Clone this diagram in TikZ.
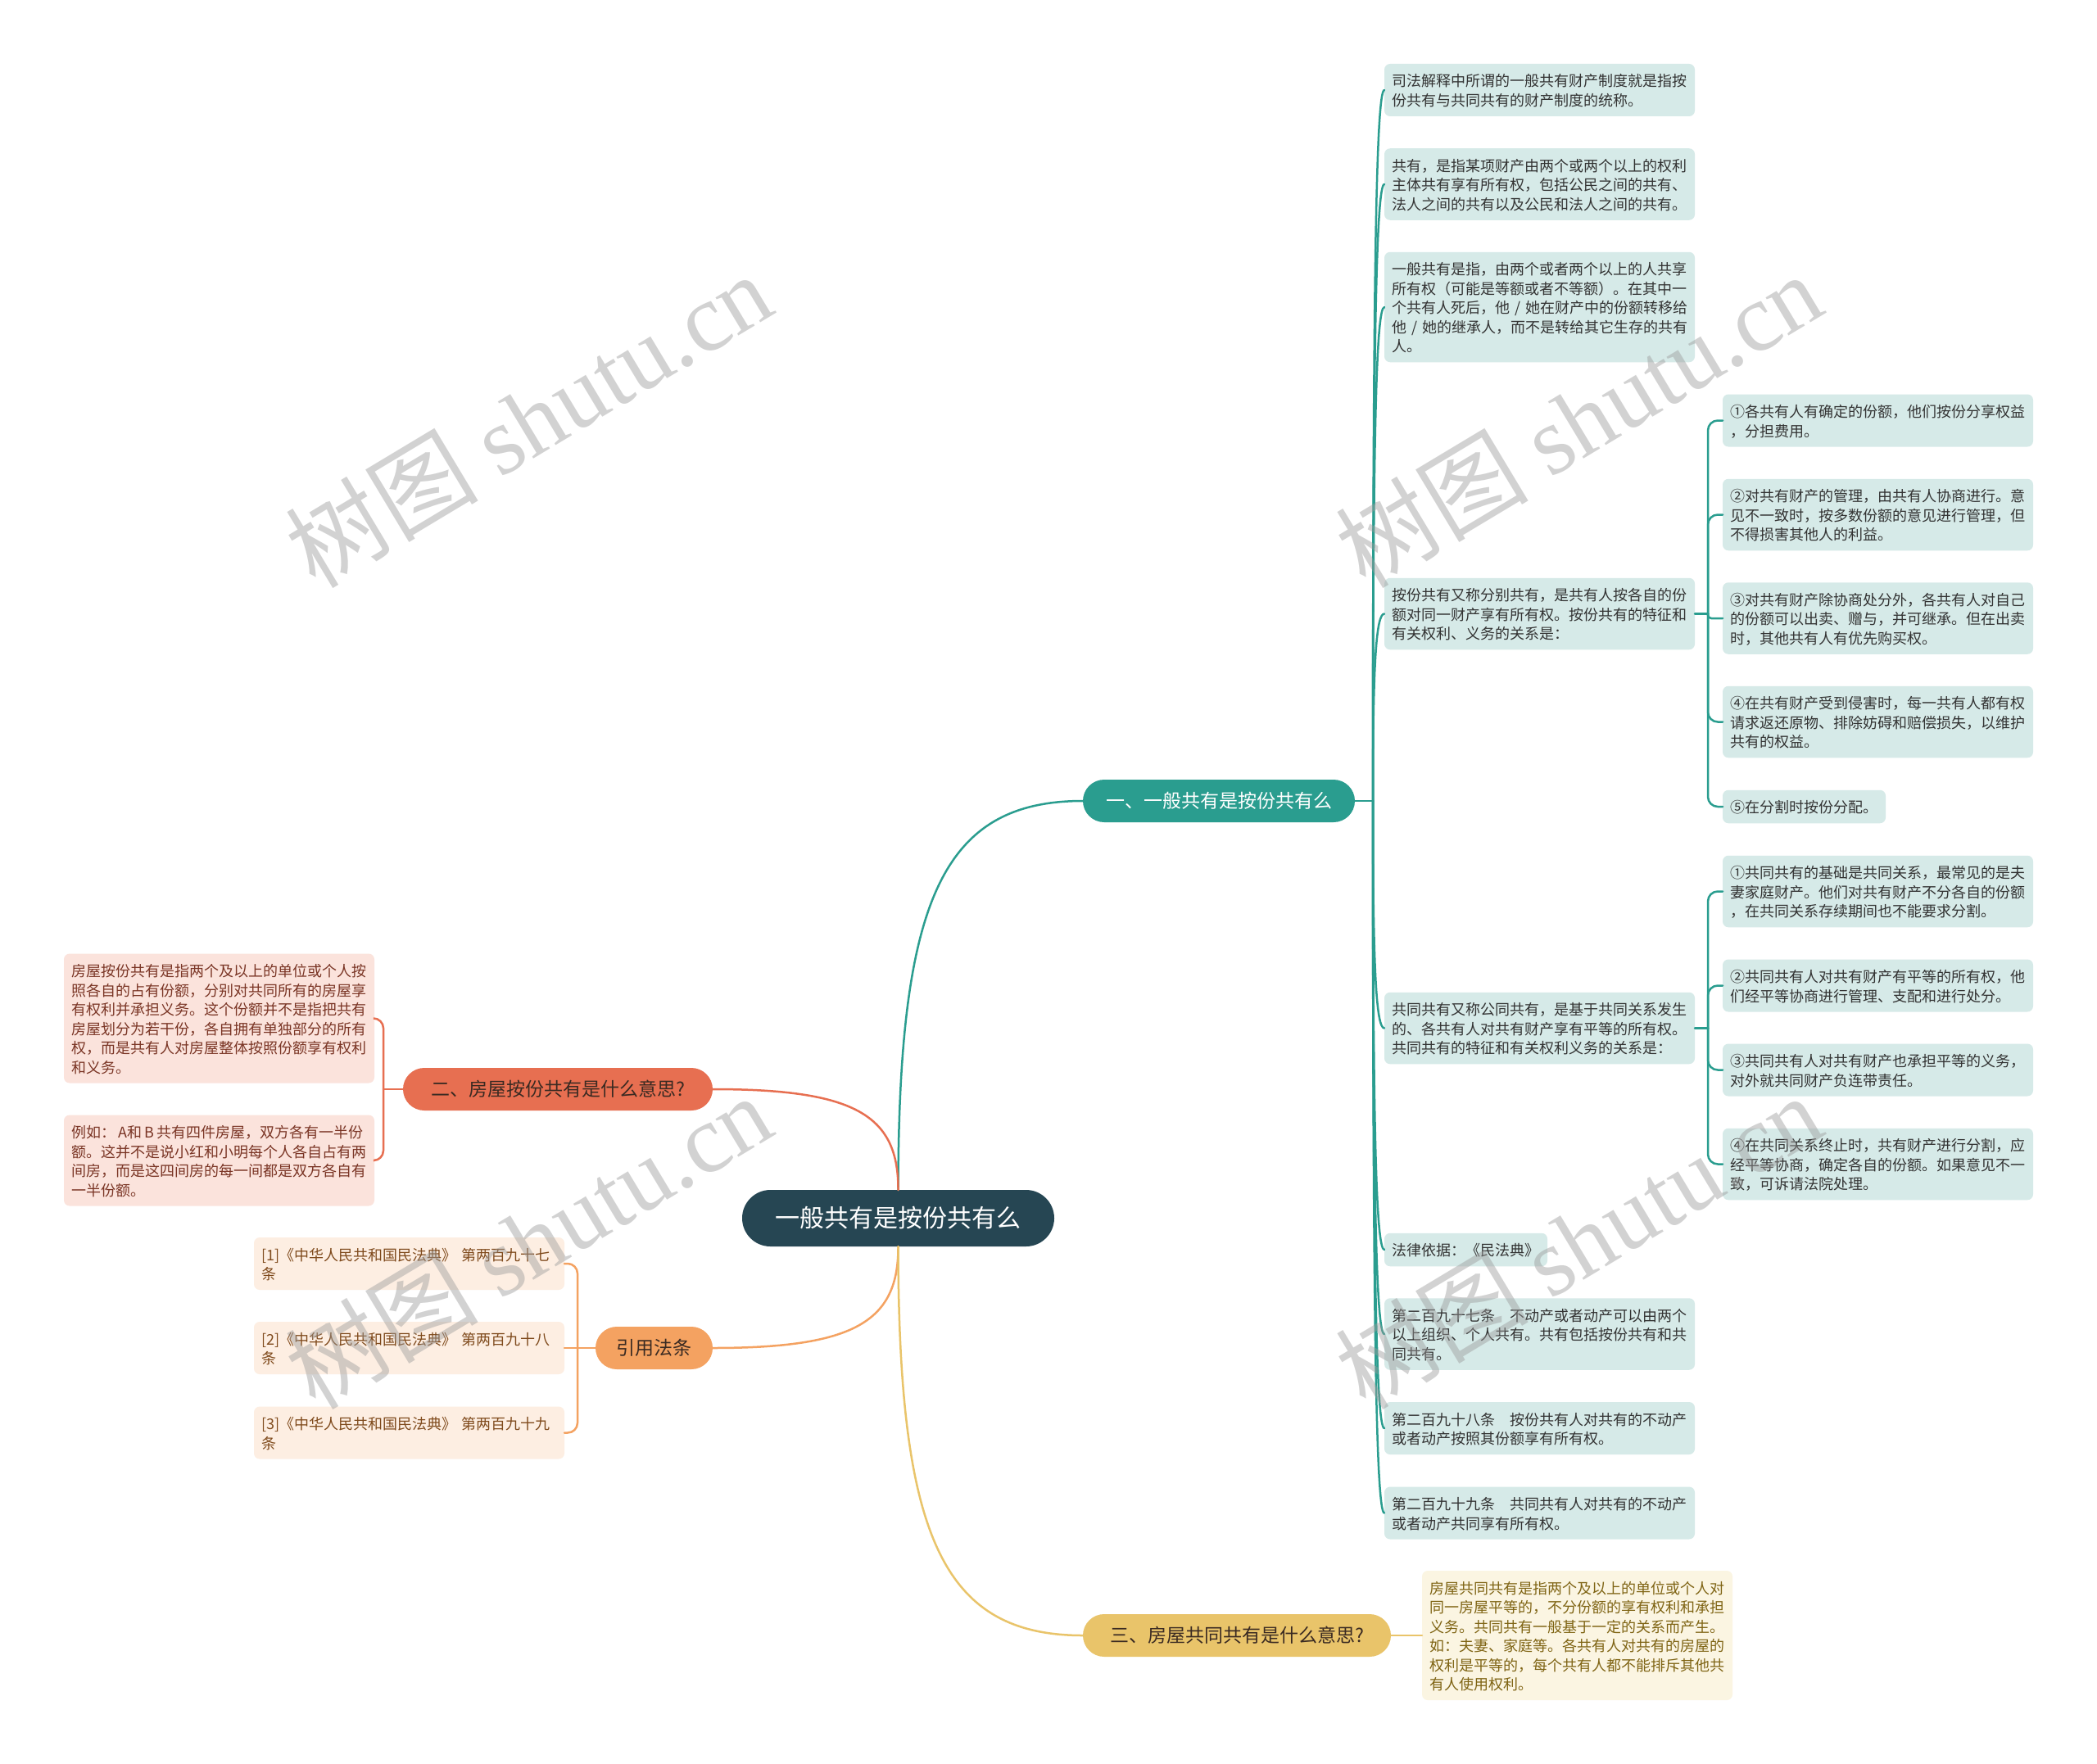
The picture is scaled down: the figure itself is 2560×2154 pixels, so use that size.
\documentclass[tikz,border=0pt]{standalone}
\usepackage{fontspec}
\setmainfont{Noto Sans CJK SC}
\newfontfamily\cjk{Noto Sans CJK SC}
\newfontfamily\wmserif{Liberation Serif}
\definecolor{cRoot}{HTML}{264653}
\definecolor{cT}{HTML}{2A9D8F}
\definecolor{cTl}{HTML}{D6EAE8}
\definecolor{cR}{HTML}{E76F51}
\definecolor{cRl}{HTML}{FBE3DC}
\definecolor{cRt}{HTML}{7A3525}
\definecolor{cO}{HTML}{F4A261}
\definecolor{cOl}{HTML}{FDEEE2}
\definecolor{cOt}{HTML}{7F4A1C}
\definecolor{cY}{HTML}{E9C46A}
\definecolor{cYl}{HTML}{FBF5E2}
\definecolor{cYt}{HTML}{7F6414}
\definecolor{txt}{HTML}{333333}
\definecolor{dk}{HTML}{3A2A22}
\definecolor{wm}{HTML}{9C9C9C}
\newcommand\lstrut{\rule[-4pt]{0pt}{23.5pt}}
\tikzset{
  every node/.style={inner sep=0pt, outer sep=0pt},
  leafbox/.style={rectangle, rounded corners=7pt, inner xsep=9.5pt, inner ysep=8.5pt,
    text width=360pt, align=left, font=\fontsize{18pt}{23.5pt}\selectfont,
    execute at begin node=\lstrut, execute at end node=\lstrut},
  shortleaf/.style={rectangle, rounded corners=7pt, inner xsep=9.5pt, inner ysep=8.5pt,
    font=\fontsize{18pt}{23.5pt}\selectfont,
    execute at begin node=\lstrut, execute at end node=\lstrut},
  tleaf/.style={fill=cTl, text=txt},
  rleaf/.style={fill=cRl, text=cRt},
  oleaf/.style={fill=cOl, text=cOt},
  yleaf/.style={fill=cYl, text=cYt},
  branchbox/.style={rectangle, rounded corners=26pt, minimum height=52pt,
    font=\fontsize{23pt}{28pt}\selectfont},
  rootbox/.style={rectangle, rounded corners=34.5pt, minimum height=69pt, minimum width=381pt,
    fill=cRoot, text=white, font=\fontsize{30pt}{36pt}\selectfont},
  conn/.style={line width=2.5pt, line cap=round},
  wmark/.style={rotate=31, text=wm, opacity=0.45}
}
\begin{document}
\begin{tikzpicture}[x=1pt, y=-1pt]
\useasboundingbox[fill=white] (0,0) rectangle (2560,2154);

% ---------- root and main branches ----------
\node[rootbox] (root) at (1096.5,1487.5) {一般共有是按份共有么};
\node[branchbox, fill=cT, text=white, minimum width=332pt] (b1) at (1488,978) {一、一般共有是按份共有么};
\node[branchbox, fill=cR, text=dk, minimum width=378pt] (b2) at (681,1330) {二、房屋按份共有是什么意思?};
\node[branchbox, fill=cO, text=dk, minimum width=143pt] (bc) at (798.5,1646) {引用法条};
\node[branchbox, fill=cY, text=dk, minimum width=376pt] (b3) at (1510,1997) {三、房屋共同共有是什么意思?};

\draw[conn, cT] (root.north) .. controls (1097,1100) and (1150,978) .. (b1.west);
\draw[conn, cR] (root.north) .. controls (1097,1361) and (1043,1330) .. (b2.east);
\draw[conn, cO] (root.south) .. controls (1097,1614) and (1043,1646) .. (bc.east);
\draw[conn, cY] (root.south) .. controls (1097,1875) and (1150,1997) .. (b3.west);

% ---------- branch 1 leaves ----------
\node[leafbox, tleaf, anchor=west] (L1) at (1690,110) {司法解释中所谓的一般共有财产制度就是指按\\份共有与共同共有的财产制度的统称。};
\node[leafbox, tleaf, anchor=west] (L2) at (1690,225) {共有，是指某项财产由两个或两个以上的权利\\主体共有享有所有权，包括公民之间的共有、\\法人之间的共有以及公民和法人之间的共有。};
\node[leafbox, tleaf, anchor=west] (L3) at (1690,375) {一般共有是指，由两个或者两个以上的人共享\\所有权（可能是等额或者不等额）。在其中一\\个共有人死后，他~/~她在财产中的份额转移给\\他~/~她的继承人，而不是转给其它生存的共有\\人。};
\node[leafbox, tleaf, anchor=west] (L4) at (1690,749.5) {按份共有又称分别共有，是共有人按各自的份\\额对同一财产享有所有权。按份共有的特征和\\有关权利、义务的关系是：};
\node[leafbox, tleaf, anchor=west] (L5) at (1690,1255.5) {共同共有又称公同共有，是基于共同关系发生\\的、各共有人对共有财产享有平等的所有权。\\共同共有的特征和有关权利义务的关系是：};
\node[shortleaf, tleaf, anchor=west] (L6) at (1690,1526) {法律依据：《民法典》};
\node[leafbox, tleaf, anchor=west] (L7) at (1690,1629) {第二百九十七条　不动产或者动产可以由两个\\以上组织、个人共有。共有包括按份共有和共\\同共有。};
\node[leafbox, tleaf, anchor=west] (L8) at (1690,1744) {第二百九十八条　按份共有人对共有的不动产\\或者动产按照其份额享有所有权。};
\node[leafbox, tleaf, anchor=west] (L9) at (1690,1847.5) {第二百九十九条　共同共有人对共有的不动产\\或者动产共同享有所有权。};

\coordinate (s1) at (1676,978);
\draw[conn, cT] (b1.east) -- (s1);
\draw[conn, cT] (s1) .. controls (1676,335.7) and (1680,110) .. (L1.west);
\draw[conn, cT] (s1) .. controls (1676,420.8) and (1680,225) .. (L2.west);
\draw[conn, cT] (s1) .. controls (1676,531.8) and (1680,375) .. (L3.west);
\draw[conn, cT] (s1) .. controls (1676,808.9) and (1680,749.5) .. (L4.west);
\draw[conn, cT] (s1) .. controls (1676,1183.3) and (1680,1255.5) .. (L5.west);
\draw[conn, cT] (s1) .. controls (1676,1383.5) and (1680,1526) .. (L6.west);
\draw[conn, cT] (s1) .. controls (1676,1459.7) and (1680,1629) .. (L7.west);
\draw[conn, cT] (s1) .. controls (1676,1544.8) and (1680,1744) .. (L8.west);
\draw[conn, cT] (s1) .. controls (1676,1621.4) and (1680,1847.5) .. (L9.west);

% ---------- sub leaves of L4 ----------
\node[leafbox, tleaf, anchor=west] (Sa) at (2103,513.5) {①各共有人有确定的份额，他们按份分享权益\\，分担费用。};
\node[leafbox, tleaf, anchor=west] (Sb) at (2103,628.5) {②对共有财产的管理，由共有人协商进行。意\\见不一致时，按多数份额的意见进行管理，但\\不得损害其他人的利益。};
\node[leafbox, tleaf, anchor=west] (Sc) at (2103,755) {③对共有财产除协商处分外，各共有人对自己\\的份额可以出卖、赠与，并可继承。但在出卖\\时，其他共有人有优先购买权。};
\node[leafbox, tleaf, anchor=west] (Sd) at (2103,881.5) {④在共有财产受到侵害时，每一共有人都有权\\请求返还原物、排除妨碍和赔偿损失，以维护\\共有的权益。};
\node[shortleaf, tleaf, anchor=west] (Se) at (2103,985) {⑤在分割时按份分配。};

\coordinate (s4) at (2085,749.5);
\draw[conn, cT] (L4.east) -- (s4);
\draw[conn, cT, rounded corners=12pt] (s4) |- (Sa.west);
\draw[conn, cT, rounded corners=12pt] (s4) |- (Sb.west);
\draw[conn, cT, rounded corners=4pt] (s4) |- (Sc.west);
\draw[conn, cT, rounded corners=12pt] (s4) |- (Sd.west);
\draw[conn, cT, rounded corners=12pt] (s4) |- (Se.west);

% ---------- sub leaves of L5 ----------
\node[leafbox, tleaf, anchor=west] (Sf) at (2103,1088.5) {①共同共有的基础是共同关系，最常见的是夫\\妻家庭财产。他们对共有财产不分各自的份额\\，在共同关系存续期间也不能要求分割。};
\node[leafbox, tleaf, anchor=west] (Sg) at (2103,1203.5) {②共同共有人对共有财产有平等的所有权，他\\们经平等协商进行管理、支配和进行处分。};
\node[leafbox, tleaf, anchor=west] (Sh) at (2103,1306.5) {③共同共有人对共有财产也承担平等的义务，\\对外就共同财产负连带责任。};
\node[leafbox, tleaf, anchor=west] (Si) at (2103,1421.5) {④在共同关系终止时，共有财产进行分割，应\\经平等协商，确定各自的份额。如果意见不一\\致，可诉请法院处理。};

\coordinate (s5) at (2085,1255.5);
\draw[conn, cT] (L5.east) -- (s5);
\draw[conn, cT, rounded corners=12pt] (s5) |- (Sf.west);
\draw[conn, cT, rounded corners=12pt] (s5) |- (Sg.west);
\draw[conn, cT, rounded corners=12pt] (s5) |- (Sh.west);
\draw[conn, cT, rounded corners=12pt] (s5) |- (Si.west);

% ---------- branch 2 leaves ----------
\node[leafbox, rleaf, anchor=east] (A1) at (457,1243.5) {房屋按份共有是指两个及以上的单位或个人按\\照各自的占有份额，分别对共同所有的房屋享\\有权利并承担义务。这个份额并不是指把共有\\房屋划分为若干份，各自拥有单独部分的所有\\权，而是共有人对房屋整体按照份额享有权利\\和义务。};
\node[leafbox, rleaf, anchor=east] (A2) at (457,1417) {例如：\,A和\,B\,共有四件房屋，双方各有一半份\\额。这并不是说小红和小明每个人各自占有两\\间房，而是这四间房的每一间都是双方各自有\\一半份额。};
\coordinate (s2) at (468,1330);
\draw[conn, cR] (b2.west) -- (s2);
\draw[conn, cR, rounded corners=12pt] (s2) |- (A1.east);
\draw[conn, cR, rounded corners=12pt] (s2) |- (A2.east);

% ---------- citation leaves ----------
\node[leafbox, oleaf, anchor=east] (C1) at (689,1543) {[1]《中华人民共和国民法典》~第两百九十七\\条};
\node[leafbox, oleaf, anchor=east] (C2) at (689,1646) {[2]《中华人民共和国民法典》~第两百九十八\\条};
\node[leafbox, oleaf, anchor=east] (C3) at (689,1749.5) {[3]《中华人民共和国民法典》~第两百九十九\\条};
\coordinate (sc) at (705,1646);
\draw[conn, cO] (bc.west) -- (sc);
\draw[conn, cO, rounded corners=12pt] (sc) |- (C1.east);
\draw[conn, cO] (sc) -- (C2.east);
\draw[conn, cO, rounded corners=12pt] (sc) |- (C3.east);

% ---------- branch 3 leaf ----------
\node[leafbox, yleaf, anchor=west] (Y1) at (1736,1997) {房屋共同共有是指两个及以上的单位或个人对\\同一房屋平等的，不分份额的享有权利和承担\\义务。共同共有一般基于一定的关系而产生。\\如：夫妻、家庭等。各共有人对共有的房屋的\\权利是平等的，每个共有人都不能排斥其他共\\有人使用权利。};
\draw[conn, cY] (b3.east) -- (Y1.west);

% ---------- watermarks ----------
\node[wmark] (wm1) at (645,512) {\fontsize{118pt}{130pt}\selectfont\cjk 树图 \wmserif shutu.cn};
\node[wmark] (wm2) at (1927,512) {\fontsize{118pt}{130pt}\selectfont\cjk 树图 \wmserif shutu.cn};
\node[wmark] (wm3) at (645,1515) {\fontsize{118pt}{130pt}\selectfont\cjk 树图 \wmserif shutu.cn};
\node[wmark] (wm4) at (1927,1515) {\fontsize{118pt}{130pt}\selectfont\cjk 树图 \wmserif shutu.cn};
\end{tikzpicture}
\end{document}
